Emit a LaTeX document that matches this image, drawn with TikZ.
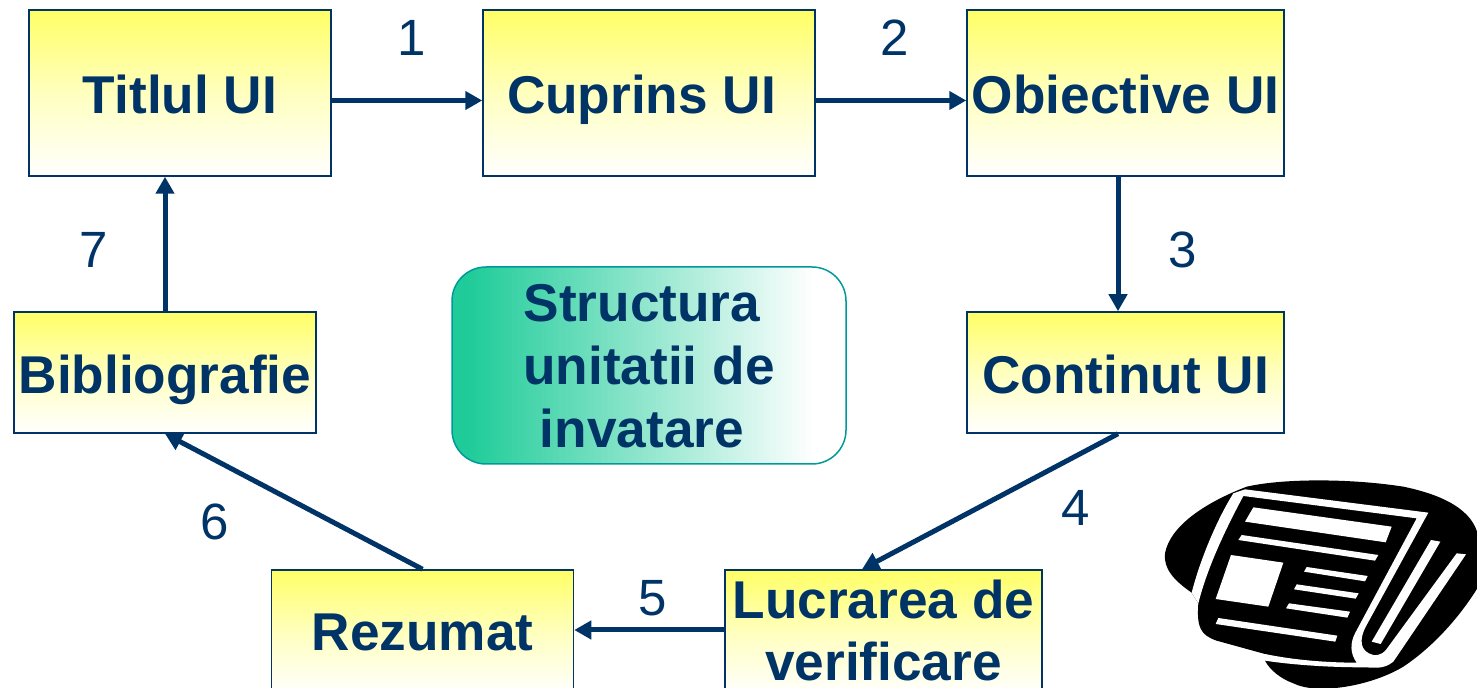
\documentclass[tikz,border=0pt]{standalone}
\usepackage{fontspec}
\setmainfont{Liberation Sans}
\usetikzlibrary{arrows.meta}
\definecolor{navy}{HTML}{003366}
\definecolor{sunny}{HTML}{FFFF66}
\definecolor{sea}{HTML}{1FCC99}
\definecolor{seaedge}{HTML}{009999}
\pgfdeclarehorizontalshading{seafade}{100bp}{color(0bp)=(sea); color(27bp)=(sea); color(71bp)=(white); color(100bp)=(white)}
\tikzset{
  >={Triangle[length=8.5pt,width=9pt]},
  unitbox/.style={draw=navy, line width=0.75pt, top color=sunny, bottom color=white, middle color=sunny!42!white, inner sep=0pt, align=center, text=navy, text height=21pt, text depth=0pt, font=\fontsize{26.6}{31}\selectfont\bfseries},
  stepnum/.style={text=navy, inner sep=0pt, font=\fontsize{25.5}{30}\selectfont},
  flow/.style={draw=navy, line width=2.5pt, ->},
  paper/.style={fill=white, draw=none},
}
\begin{document}
\begin{tikzpicture}[x=0.5pt, y=-0.5pt]
  \useasboundingbox (0,0) rectangle (1477,688);
  \clip (0,0) rectangle (1477,688);
  % boxes
  \node[unitbox, minimum width=151pt, minimum height=83pt] (titlu) at (180,93) {Titlul UI};
  \node[unitbox, minimum width=166pt, minimum height=83pt] (cuprins) at (649,93) {Cuprins UI\hspace*{7.5pt}};
  \node[unitbox, minimum width=158.5pt, minimum height=83pt] (obiective) at (1125.5,93) {Obiective UI};
  \node[unitbox, minimum width=158.5pt, minimum height=60.5pt] (continut) at (1125.5,372.5) {Continut UI};
  \node[unitbox, minimum width=151pt, minimum height=60.5pt] (biblio) at (165,372.5) {Bibliografie};
  \node[unitbox, minimum width=151pt, minimum height=62.5pt, text height=18pt] (rezumat) at (422.5,632.5) {Rezumat};
  \node[unitbox, minimum width=158.5pt, minimum height=62.5pt, text height=48.5pt] (lucrare) at (883.5,632.5) {Lucrarea de\\verificare};
  \node[draw=seaedge, line width=0.75pt, rounded corners=17pt, shading=seafade, minimum width=197pt, minimum height=98.5pt, inner sep=0pt, align=center, text=navy, text height=82.5pt, text depth=0pt, font=\fontsize{26.6}{31.5}\selectfont\bfseries] (structura) at (649,365.5) {\hspace*{-7pt}Structura\\unitatii de\\\hspace*{-7pt}invatare};
  % connectors
  \draw[flow] ([yshift=-3.75pt]titlu.east) -- ([yshift=-3.75pt]cuprins.west);
  \draw[flow] ([yshift=-3.75pt]cuprins.east) -- ([yshift=-3.75pt]obiective.west);
  \draw[flow] ([xshift=-3.75pt]obiective.south) -- ([xshift=-3.75pt]continut.north);
  \draw[flow] ([xshift=-3.75pt]continut.south) -- ([xshift=-10.75pt]lucrare.north);
  \draw[flow] ([yshift=1.25pt]lucrare.west) -- ([yshift=1.25pt]rezumat.east);
  \draw[flow] (rezumat.north) -- (biblio.south);
  \draw[flow] (biblio.north) -- (biblio.north |- titlu.south);
  % numbers
  \node[stepnum] (n1) at (412,38) {1};
  \node[stepnum] (n2) at (895,38) {2};
  \node[stepnum] (n3) at (1183,250) {3};
  \node[stepnum] (n4) at (1076,508) {4};
  \node[stepnum] (n5) at (653,598) {5};
  \node[stepnum] (n6) at (215,522) {6};
  \node[stepnum] (n7) at (94,250) {7};
  % newspaper
  \begin{scope}[shift={(1150,470)}, scale=0.33333]
    \fill[black] (125,368) .. controls (70,330) and (40,295) .. (45,250)
      .. controls (60,170) and (160,100) .. (290,50)
      .. controls (400,25) and (600,25) .. (760,50)
      .. controls (880,75) and (970,120) .. (985,200) -- (985,350)
      .. controls (930,440) and (850,530) .. (760,590)
      .. controls (660,650) and (500,675) .. (430,640)
      .. controls (390,625) and (360,600) .. (345,572)
      -- (345,552) -- (200,512) .. controls (150,495) and (140,470) .. (145,400) -- cycle;
    \fill[paper] (125,368) .. controls (150,270) and (200,150) .. (250,70) -- (285,58) -- (835,128)
      -- (650,465) .. controls (625,510) and (630,545) .. (670,555)
      .. controls (695,557) and (705,545) .. (715,530) -- (920,250) -- (948,253) -- (730,575)
      .. controls (700,600) and (670,592) .. (640,592)
      .. controls (540,592) and (430,585) .. (345,572) -- (345,552)
      .. controls (430,570) and (530,578) .. (620,578)
      .. controls (600,550) and (600,520) .. (615,490) -- (800,145) -- (280,78)
      .. controls (220,190) and (170,300) .. (145,400) -- cycle;
    \fill[paper] (843,210) -- (871,215) -- (692,522) -- (665,515) -- cycle;
    \fill[paper] (310,112) -- (725,170) -- (707,217) -- (285,155) -- cycle;
    \fill[paper] (275,195) -- (685,255) -- (675,272) -- (265,210) -- cycle;
    \fill[paper] (243,255) -- (400,278) -- (355,410) -- (197,387) -- cycle;
    \fill[paper] (470,291) -- (653,318) -- (645,334) -- (462,305) -- cycle;
    \fill[paper] (440,343) -- (626,370) -- (617,386) -- (432,358) -- cycle;
    \fill[paper] (417,400) -- (600,425) -- (592,443) -- (408,415) -- cycle;
    \fill[paper] (205,444) -- (562,497) -- (556,515) -- (197,462) -- cycle;
  \end{scope}
\end{tikzpicture}
\end{document}
